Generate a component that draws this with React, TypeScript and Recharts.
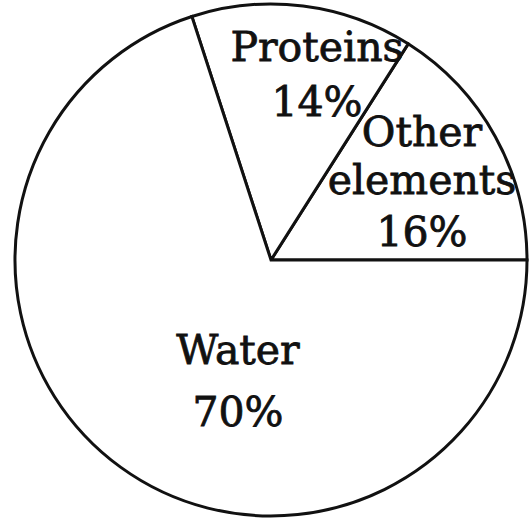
import React from "react";
import { PieChart, Pie, Cell } from "recharts";

const categories = ["Other elements", "Proteins", "Water"];
const values = [16, 14, 70];
const labelLines: string[][] = [
  ["Other", "elements", "16%"],
  ["Proteins", "14%"],
  ["Water", "70%"],
];

const data = categories.map((name, i) => ({ name, value: values[i] }));

// label layout (offsets from pie centre), kept separate from data
const LAYOUT: Record<string, { dx: number; dys: number[] }> = {
  "Other elements": { dx: 151, dys: [-114, -66, -14] },
  Proteins: { dx: 46, dys: [-199, -144] },
  Water: { dx: -33, dys: [104, 166] },
};

const CX = 271;
const CY = 260;
const R = 256;
const FONT = "DejaVu Serif";

const renderLabel = (props: any) => {
  const { cx, cy, index, name } = props;
  const lay = LAYOUT[name];
  if (!lay) return null;
  const lines = labelLines[index];
  return (
    <g>
      {lines.map((t, i) => (
        <text
          key={i}
          x={cx + lay.dx}
          y={cy + lay.dys[i]}
          textAnchor="middle"
          fill="#111"
          stroke="#111"
          strokeWidth={0.8}
          fontFamily={FONT}
          fontSize={41}
          style={{ fontFamily: FONT, fontSize: 41 }}
        >
          {t}
        </text>
      ))}
    </g>
  );
};

export default function App() {
  return (
    <div style={{ position: "absolute", left: 0, top: 0, width: 532, height: 528, background: "#fff" }}>
      <PieChart width={532} height={528} margin={{ top: 0, right: 0, bottom: 0, left: 0 }}>
        <Pie
          data={data}
          dataKey="value"
          nameKey="name"
          cx={CX}
          cy={CY}
          outerRadius={R}
          innerRadius={0}
          startAngle={0}
          endAngle={360}
          stroke="#111"
          strokeWidth={3}
          label={renderLabel}
          labelLine={false}
          isAnimationActive={false}
        >
          {data.map((d) => (
            <Cell key={d.name} fill="#ffffff" stroke="#111" strokeWidth={3} />
          ))}
        </Pie>
      </PieChart>
    </div>
  );
}
